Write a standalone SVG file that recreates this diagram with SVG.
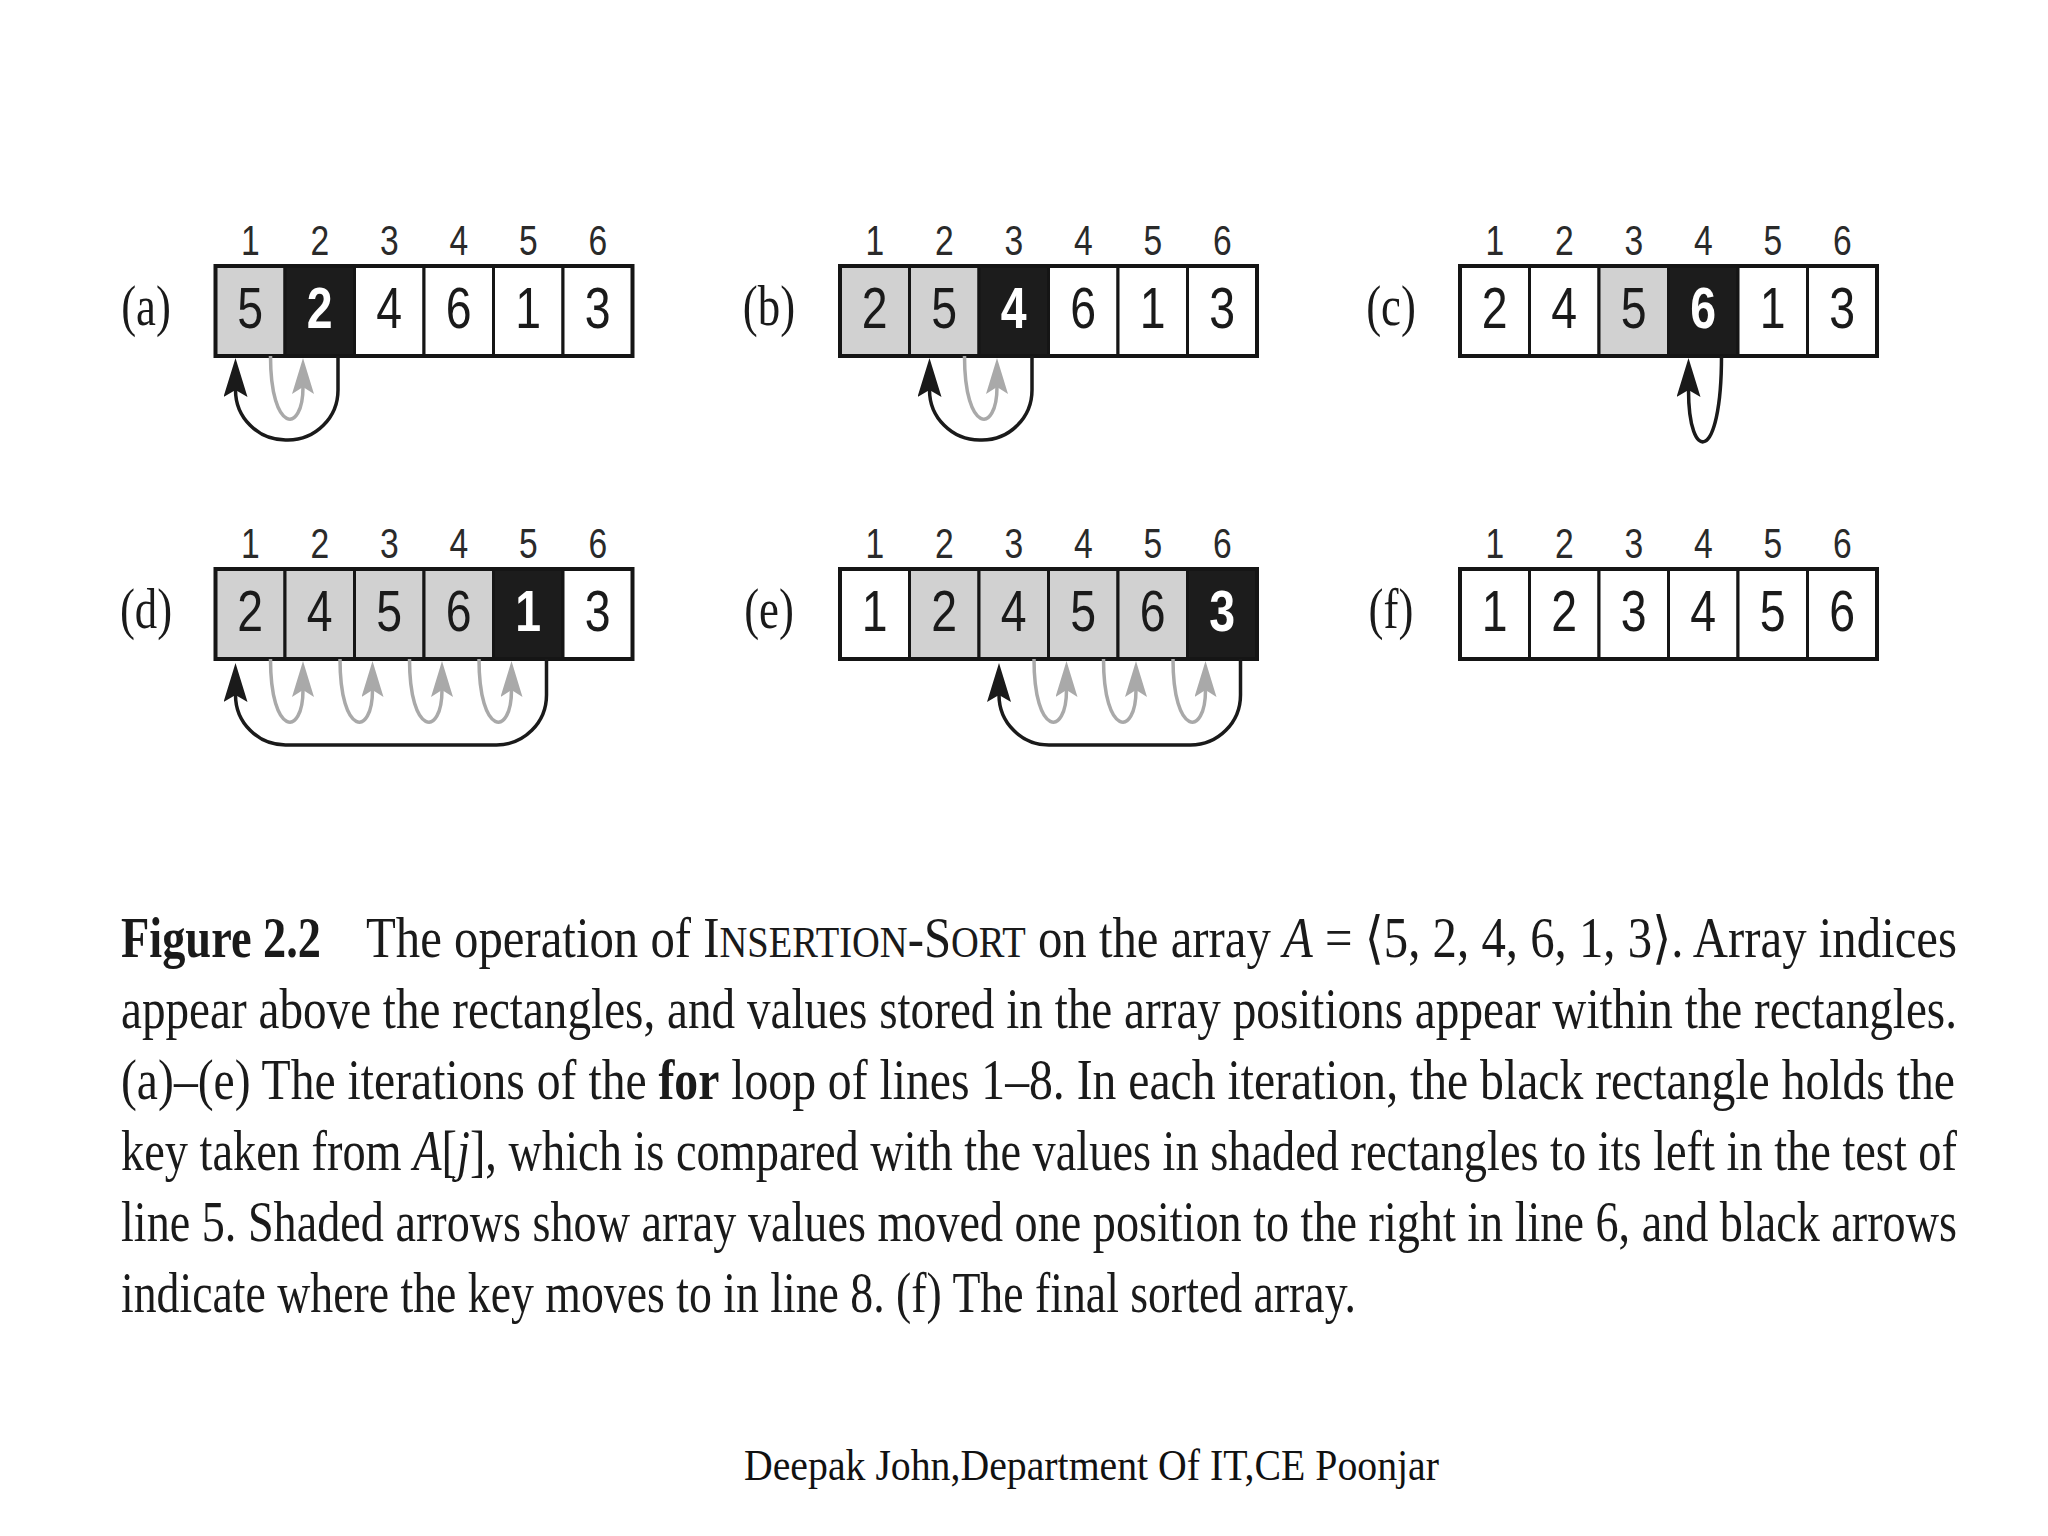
<svg xmlns="http://www.w3.org/2000/svg" width="2048" height="1536" viewBox="0 0 2048 1536">
<style>
.w{fill:#ffffff;stroke:#151515;stroke-width:3}
.g{fill:#d1d1d1;stroke:#151515;stroke-width:3}
.k{fill:#1c1c1c;stroke:#151515;stroke-width:3}
.outer{fill:none;stroke:#151515;stroke-width:4}
.idx{font-family:"Liberation Sans",Arial,sans-serif;font-size:42px;fill:#2a2a2a;text-anchor:middle}
.val{font-family:"Liberation Sans",Arial,sans-serif;font-size:58px;fill:#1a1a1a;text-anchor:middle}
.key{fill:#ffffff;font-weight:bold}
.lbl{font-family:"Liberation Serif","Times New Roman",serif;font-size:56px;fill:#1a1a1a;text-anchor:middle}
.cond{transform-box:fill-box;transform-origin:center;transform:scaleX(0.8)}
.ga{fill:none;stroke:#a9a9a9;stroke-width:3.5;marker-end:url(#hg)}
.ba{fill:none;stroke:#1a1a1a;stroke-width:3.5;marker-end:url(#hb)}
.cap{font-family:"Liberation Serif","Times New Roman","DejaVu Serif",serif;font-size:57px;fill:#1a1a1a}
.sc{font-size:45px}
.it{font-style:italic}
.bd{font-weight:bold}
.foot{font-family:"Liberation Serif","Times New Roman",serif;font-size:44px;fill:#111}
</style>
<defs>
<marker id="hg" markerUnits="userSpaceOnUse" viewBox="0 0 36 22" markerWidth="36" markerHeight="22" refX="7" refY="11" orient="auto">
<path d="M0,0 L36,11 L0,22 L7,11 z" fill="#a9a9a9"/>
</marker>
<marker id="hb" markerUnits="userSpaceOnUse" viewBox="0 0 39 24" markerWidth="39" markerHeight="24" refX="7" refY="12" orient="auto">
<path d="M0,0 L39,12 L0,24 L7,12 z" fill="#1a1a1a"/>
</marker>
</defs>
<rect x="0" y="0" width="2048" height="1536" fill="#ffffff"/>

<!-- panel a -->
<g id="panel-a">
<text class="lbl cond" x="146" y="325">(a)</text>
<g class="idx"><text class="cond" x="250.25" y="255">1</text><text class="cond" x="319.75" y="255">2</text><text class="cond" x="389.25" y="255">3</text><text class="cond" x="458.75" y="255">4</text><text class="cond" x="528.25" y="255">5</text><text class="cond" x="597.75" y="255">6</text></g>
<rect class="g" x="215.5" y="266" width="69.5" height="90"/>
<rect class="k" x="285" y="266" width="69.5" height="90"/>
<rect class="w" x="354.5" y="266" width="69.5" height="90"/>
<rect class="w" x="424" y="266" width="69.5" height="90"/>
<rect class="w" x="493.5" y="266" width="69.5" height="90"/>
<rect class="w" x="563" y="266" width="69.5" height="90"/>
<rect class="outer" x="215.5" y="266" width="417" height="90"/>
<text class="val cond" x="250.25" y="328">5</text><text class="val key cond" x="319.75" y="328">2</text><text class="val cond" x="389.25" y="328">4</text><text class="val cond" x="458.75" y="328">6</text><text class="val cond" x="528.25" y="328">1</text><text class="val cond" x="597.75" y="328">3</text>
</g>

<!-- panel b -->
<g id="panel-b">
<text class="lbl cond" x="769" y="325">(b)</text>
<g class="idx"><text class="cond" x="874.75" y="255">1</text><text class="cond" x="944.25" y="255">2</text><text class="cond" x="1013.75" y="255">3</text><text class="cond" x="1083.25" y="255">4</text><text class="cond" x="1152.75" y="255">5</text><text class="cond" x="1222.25" y="255">6</text></g>
<rect class="g" x="840" y="266" width="69.5" height="90"/>
<rect class="g" x="909.5" y="266" width="69.5" height="90"/>
<rect class="k" x="979" y="266" width="69.5" height="90"/>
<rect class="w" x="1048.5" y="266" width="69.5" height="90"/>
<rect class="w" x="1118" y="266" width="69.5" height="90"/>
<rect class="w" x="1187.5" y="266" width="69.5" height="90"/>
<rect class="outer" x="840" y="266" width="417" height="90"/>
<text class="val cond" x="874.75" y="328">2</text><text class="val cond" x="944.25" y="328">5</text><text class="val key cond" x="1013.75" y="328">4</text><text class="val cond" x="1083.25" y="328">6</text><text class="val cond" x="1152.75" y="328">1</text><text class="val cond" x="1222.25" y="328">3</text>
</g>

<!-- panel c -->
<g id="panel-c">
<text class="lbl cond" x="1391" y="325">(c)</text>
<g class="idx"><text class="cond" x="1494.75" y="255">1</text><text class="cond" x="1564.25" y="255">2</text><text class="cond" x="1633.75" y="255">3</text><text class="cond" x="1703.25" y="255">4</text><text class="cond" x="1772.75" y="255">5</text><text class="cond" x="1842.25" y="255">6</text></g>
<rect class="w" x="1460" y="266" width="69.5" height="90"/>
<rect class="w" x="1529.5" y="266" width="69.5" height="90"/>
<rect class="g" x="1599" y="266" width="69.5" height="90"/>
<rect class="k" x="1668.5" y="266" width="69.5" height="90"/>
<rect class="w" x="1738" y="266" width="69.5" height="90"/>
<rect class="w" x="1807.5" y="266" width="69.5" height="90"/>
<rect class="outer" x="1460" y="266" width="417" height="90"/>
<text class="val cond" x="1494.75" y="328">2</text><text class="val cond" x="1564.25" y="328">4</text><text class="val cond" x="1633.75" y="328">5</text><text class="val key cond" x="1703.25" y="328">6</text><text class="val cond" x="1772.75" y="328">1</text><text class="val cond" x="1842.25" y="328">3</text>
</g>

<!-- panel d -->
<g id="panel-d">
<text class="lbl cond" x="146" y="628">(d)</text>
<g class="idx"><text class="cond" x="250.25" y="558">1</text><text class="cond" x="319.75" y="558">2</text><text class="cond" x="389.25" y="558">3</text><text class="cond" x="458.75" y="558">4</text><text class="cond" x="528.25" y="558">5</text><text class="cond" x="597.75" y="558">6</text></g>
<rect class="g" x="215.5" y="569" width="69.5" height="90"/>
<rect class="g" x="285" y="569" width="69.5" height="90"/>
<rect class="g" x="354.5" y="569" width="69.5" height="90"/>
<rect class="g" x="424" y="569" width="69.5" height="90"/>
<rect class="k" x="493.5" y="569" width="69.5" height="90"/>
<rect class="w" x="563" y="569" width="69.5" height="90"/>
<rect class="outer" x="215.5" y="569" width="417" height="90"/>
<text class="val cond" x="250.25" y="631">2</text><text class="val cond" x="319.75" y="631">4</text><text class="val cond" x="389.25" y="631">5</text><text class="val cond" x="458.75" y="631">6</text><text class="val key cond" x="528.25" y="631">1</text><text class="val cond" x="597.75" y="631">3</text>
</g>

<!-- panel e -->
<g id="panel-e">
<text class="lbl cond" x="769" y="628">(e)</text>
<g class="idx"><text class="cond" x="874.75" y="558">1</text><text class="cond" x="944.25" y="558">2</text><text class="cond" x="1013.75" y="558">3</text><text class="cond" x="1083.25" y="558">4</text><text class="cond" x="1152.75" y="558">5</text><text class="cond" x="1222.25" y="558">6</text></g>
<rect class="w" x="840" y="569" width="69.5" height="90"/>
<rect class="g" x="909.5" y="569" width="69.5" height="90"/>
<rect class="g" x="979" y="569" width="69.5" height="90"/>
<rect class="g" x="1048.5" y="569" width="69.5" height="90"/>
<rect class="g" x="1118" y="569" width="69.5" height="90"/>
<rect class="k" x="1187.5" y="569" width="69.5" height="90"/>
<rect class="outer" x="840" y="569" width="417" height="90"/>
<text class="val cond" x="874.75" y="631">1</text><text class="val cond" x="944.25" y="631">2</text><text class="val cond" x="1013.75" y="631">4</text><text class="val cond" x="1083.25" y="631">5</text><text class="val cond" x="1152.75" y="631">6</text><text class="val key cond" x="1222.25" y="631">3</text>
</g>

<!-- panel f -->
<g id="panel-f">
<text class="lbl cond" x="1391" y="628">(f)</text>
<g class="idx"><text class="cond" x="1494.75" y="558">1</text><text class="cond" x="1564.25" y="558">2</text><text class="cond" x="1633.75" y="558">3</text><text class="cond" x="1703.25" y="558">4</text><text class="cond" x="1772.75" y="558">5</text><text class="cond" x="1842.25" y="558">6</text></g>
<rect class="w" x="1460" y="569" width="69.5" height="90"/>
<rect class="w" x="1529.5" y="569" width="69.5" height="90"/>
<rect class="w" x="1599" y="569" width="69.5" height="90"/>
<rect class="w" x="1668.5" y="569" width="69.5" height="90"/>
<rect class="w" x="1738" y="569" width="69.5" height="90"/>
<rect class="w" x="1807.5" y="569" width="69.5" height="90"/>
<rect class="outer" x="1460" y="569" width="417" height="90"/>
<text class="val cond" x="1494.75" y="631">1</text><text class="val cond" x="1564.25" y="631">2</text><text class="val cond" x="1633.75" y="631">3</text><text class="val cond" x="1703.25" y="631">4</text><text class="val cond" x="1772.75" y="631">5</text><text class="val cond" x="1842.25" y="631">6</text>
</g>

<!-- connectors -->
<g id="connectors">
<!-- a -->
<path class="ga" d="M270.5,356 C270.5,434 303,434 303,387"/>
<path class="ba" d="M338,356 L338,390 A50,50 0 0 1 288,440 L285.5,440 A50,50 0 0 1 235.5,390"/>
<!-- b -->
<path class="ga" d="M964.5,356 C964.5,434 997,434 997,387"/>
<path class="ba" d="M1032,356 L1032,390 A50,50 0 0 1 982,440 L979.5,440 A50,50 0 0 1 929.5,390"/>
<!-- c -->
<path class="ba" d="M1721.5,356 C1721.5,464 1688.5,464 1688.5,390"/>
<!-- d -->
<path class="ga" d="M270.5,659 C270.5,737 303,737 303,690"/>
<path class="ga" d="M340,659 C340,737 372.5,737 372.5,690"/>
<path class="ga" d="M409.5,659 C409.5,737 442,737 442,690"/>
<path class="ga" d="M479,659 C479,737 511.5,737 511.5,690"/>
<path class="ba" d="M546.5,659 L546.5,695 A50,50 0 0 1 496.5,745 L285.5,745 A50,50 0 0 1 235.5,695"/>
<!-- e -->
<path class="ga" d="M1034,659 C1034,737 1066.5,737 1066.5,690"/>
<path class="ga" d="M1103.5,659 C1103.5,737 1136,737 1136,690"/>
<path class="ga" d="M1173,659 C1173,737 1205.5,737 1205.5,690"/>
<path class="ba" d="M1240.5,659 L1240.5,695 A50,50 0 0 1 1190.5,745 L1049,745 A50,50 0 0 1 999,695"/>
</g>

<!-- caption -->
<g id="caption" class="cap">
<text class="bd" x="121" y="957" textLength="200" lengthAdjust="spacingAndGlyphs">Figure 2.2</text>
<text x="366" y="957" textLength="1591" lengthAdjust="spacingAndGlyphs">The operation of I<tspan class="sc">NSERTION</tspan>-S<tspan class="sc">ORT</tspan> on the array <tspan class="it">A</tspan> = ⟨5, 2, 4, 6, 1, 3⟩. Array indices</text>
<text x="121" y="1028" textLength="1836" lengthAdjust="spacingAndGlyphs">appear above the rectangles, and values stored in the array positions appear within the rectangles.</text>
<text x="121" y="1099" textLength="1834" lengthAdjust="spacingAndGlyphs">(a)–(e) The iterations of the <tspan class="bd">for</tspan> loop of lines 1–8. In each iteration, the black rectangle holds the</text>
<text x="121" y="1170" textLength="1836" lengthAdjust="spacingAndGlyphs">key taken from <tspan class="it">A</tspan>[<tspan class="it">j</tspan>], which is compared with the values in shaded rectangles to its left in the test of</text>
<text x="121" y="1241" textLength="1836" lengthAdjust="spacingAndGlyphs">line 5. Shaded arrows show array values moved one position to the right in line 6, and black arrows</text>
<text x="121" y="1312" textLength="1235" lengthAdjust="spacingAndGlyphs">indicate where the key moves to in line 8. (f) The final sorted array.</text>
</g>

<g id="footer">
<text class="foot" x="744" y="1480" textLength="695" lengthAdjust="spacingAndGlyphs">Deepak John,Department Of IT,CE Poonjar</text>
</g>
</svg>
